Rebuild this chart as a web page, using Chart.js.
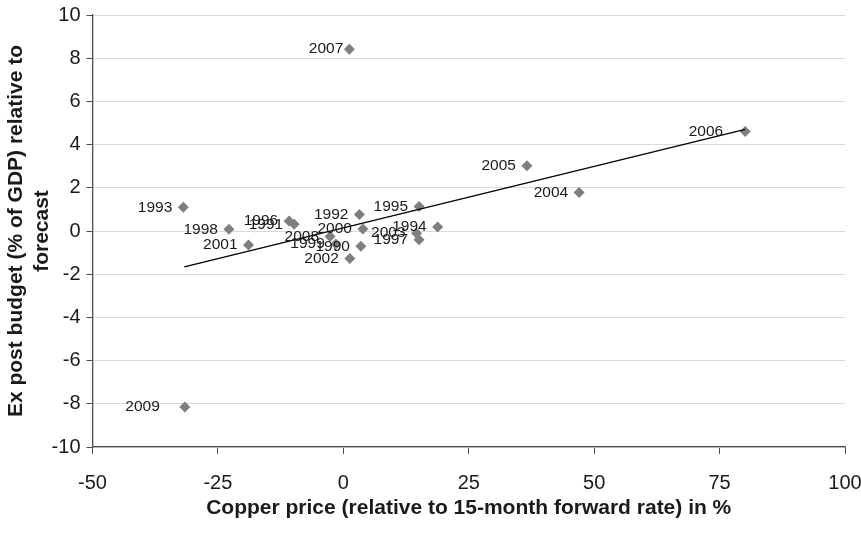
<!DOCTYPE html>
<html>
<head>
<meta charset="utf-8">
<script src="https://cdn.jsdelivr.net/npm/chart.js@4/dist/chart.umd.min.js"></script>
<style>
  html, body { margin: 0; padding: 0; background: #fff; }
  #wrap { width: 861px; height: 533px; position: relative; }
</style>
</head>
<body>
<div id="wrap"><canvas id="chart"></canvas></div>
<script>
// values
const years = ["1990", "1991", "1992", "1993", "1994", "1995", "1996", "1997", "1998", "1999",
  "2000", "2001", "2002", "2003", "2004", "2005", "2006", "2007", "2008", "2009"];
const copperGap = [3.5, -9.8, 3.2, -31.9, 18.8, 15.1, -10.8, 15.1, -22.8, -1.5,
  3.9, -18.9, 1.3, 14.6, 47.0, 36.6, 80.1, 1.2, -2.65, -31.6];
const budgetGap = [-0.71, 0.31, 0.76, 1.1, 0.18, 1.14, 0.46, -0.4, 0.08, -0.6,
  0.09, -0.65, -1.27, -0.1, 1.78, 3.02, 4.61, 8.42, -0.25, -8.15];

// trend line end points
const trendX = [-31.7, 80.1];
const trendY = [-1.66, 4.7];

const xTicks = [-50, -25, 0, 25, 50, 75, 100];
const yTicks = [-10, -8, -6, -4, -2, 0, 2, 4, 6, 8, 10];

const points = copperGap.map((x, i) => ({ x, y: budgetGap[i] }));
const trend = trendX.map((x, i) => ({ x, y: trendY[i] }));

const FONT = "'Liberation Sans', Arial, sans-serif";

// a few labels sit further from (or closer to) their marker in the original
const labelGap = { "2009": 25, "2006": 22, "2007": 6 };

const yearLabels = {
  id: "yearLabels",
  afterDatasetsDraw(chart) {
    const { ctx } = chart;
    const meta = chart.getDatasetMeta(0);
    ctx.save();
    ctx.font = "15.5px " + FONT;
    ctx.fillStyle = "#1a1a1a";
    ctx.textAlign = "right";
    ctx.textBaseline = "middle";
    meta.data.forEach((pt, i) => {
      const gap = labelGap[years[i]] ?? 11;
      ctx.fillText(years[i], pt.x - gap, pt.y);
    });
    ctx.restore();
  },
};

new Chart(document.getElementById("chart"), {
  type: "scatter",
  data: {
    datasets: [
      {
        label: "Years",
        data: points,
        pointStyle: "rectRot",
        pointRadius: 5.5,
        pointHoverRadius: 5.5,
        backgroundColor: "#7f7f7f",
        borderColor: "#7f7f7f",
        borderWidth: 0,
        order: 2,
      },
      {
        label: "Trend",
        type: "line",
        data: trend,
        borderColor: "#000",
        borderWidth: 1.3,
        pointRadius: 0,
        fill: false,
        order: 1,
      },
    ],
  },
  options: {
    responsive: true,
    maintainAspectRatio: false,
    animation: false,
    events: [],
    layout: { padding: { top: 15, right: 0, left: 0, bottom: 0 } },
    plugins: {
      legend: { display: false },
      tooltip: { enabled: false },
    },
    scales: {
      x: {
        type: "linear",
        min: -50,
        max: 100,
        afterBuildTicks: (axis) => { axis.ticks = xTicks.map((v) => ({ value: v })); },
        afterFit: (axis) => {
          axis.height = 86;
          axis.paddingRight = 16;
          axis.paddingLeft = 0;
        },
        grid: {
          drawOnChartArea: false,
          tickColor: "#4d4d4d",
          tickLength: 7,
        },
        border: { color: "#4d4d4d", width: 1.3 },
        ticks: {
          color: "#1a1a1a",
          font: { family: FONT, size: 20 },
          padding: 17,
          maxRotation: 0,
        },
        title: {
          display: true,
          text: "Copper price (relative to 15-month forward rate) in %",
          color: "#1a1a1a",
          font: { family: FONT, size: 21, weight: "bold" },
          padding: { top: 2, bottom: 12 },
        },
      },
      y: {
        type: "linear",
        min: -10,
        max: 10,
        afterBuildTicks: (axis) => { axis.ticks = yTicks.map((v) => ({ value: v })); },
        afterFit: (axis) => {
          axis.width = 92.5;
          axis.paddingTop = 0;
          axis.paddingBottom = 0;
        },
        grid: {
          color: "#d9d9d9",
          tickColor: "#4d4d4d",
          tickLength: 6,
        },
        border: { color: "#4d4d4d", width: 1.3 },
        ticks: {
          color: "#1a1a1a",
          font: { family: FONT, size: 20 },
          padding: 6,
        },
        title: {
          display: true,
          text: ["Ex post budget (% of GDP) relative to", "forecast"],
          color: "#1a1a1a",
          font: { family: FONT, size: 21, weight: "bold" },
          padding: { top: 4, bottom: 2 },
        },
      },
    },
  },
  plugins: [yearLabels],
});
</script>
</body>
</html>
